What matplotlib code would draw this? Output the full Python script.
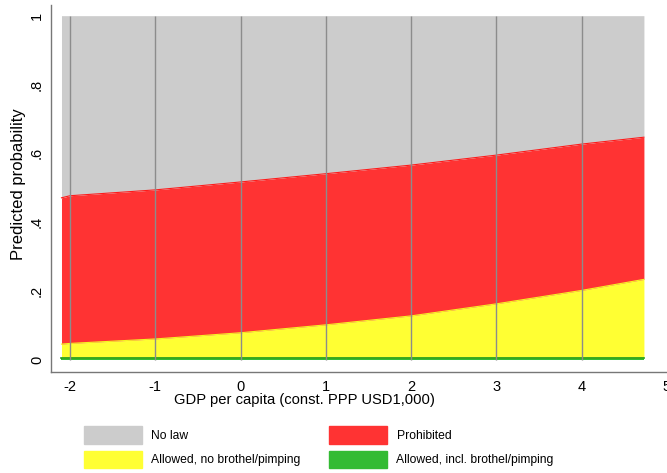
import matplotlib
matplotlib.use("Agg")
import matplotlib.pyplot as plt
import numpy as np
from matplotlib.patches import Patch

plt.rcParams['font.family'] = ['Liberation Sans', 'DejaVu Sans']

# GDP per capita grid (const. PPP USD1,000, centred)
gdp = [-2.1, -2.0, -1.0, 0.0, 1.0, 2.0, 3.0, 4.0, 4.73]

# Predicted probabilities per legal regime
p_allowed_incl = [0.005, 0.005, 0.005, 0.005, 0.005, 0.005, 0.005, 0.005, 0.005]
p_allowed_no = [0.041, 0.043, 0.056, 0.074, 0.097, 0.123, 0.158, 0.197, 0.229]
p_prohibited = [0.425, 0.429, 0.433, 0.438, 0.439, 0.438, 0.432, 0.425, 0.413]
p_no_law = [0.529, 0.523, 0.506, 0.483, 0.459, 0.434, 0.405, 0.373, 0.353]

labels = ["No law", "Prohibited", "Allowed, no brothel/pimping", "Allowed, incl. brothel/pimping"]
colors = {"No law": "#cccccc", "Prohibited": "#ff3333",
          "Allowed, no brothel/pimping": "#ffff33", "Allowed, incl. brothel/pimping": "#33bb33"}

xticks = [-2, -1, 0, 1, 2, 3, 4, 5]
yticks = [0, 0.2, 0.4, 0.6, 0.8, 1.0]
ytick_labels = ["0", ".2", ".4", ".6", ".8", "1"]

W, H = 667, 473
fig = plt.figure(figsize=(W / 100, H / 100), dpi=100)
ax = fig.add_axes([51 / W, 101 / H, (684 - 51) / W, (372 - 5) / H])

x = np.array(gdp)
g = np.array(p_allowed_incl)
y = g + np.array(p_allowed_no)
r = y + np.array(p_prohibited)
n = r + np.array(p_no_law)

ax.fill_between(x, 0, g, color=colors["Allowed, incl. brothel/pimping"], lw=0, zorder=2)
ax.fill_between(x, g, y, color=colors["Allowed, no brothel/pimping"], lw=0, zorder=2)
ax.fill_between(x, y, r, color=colors["Prohibited"], lw=0, zorder=2)
ax.fill_between(x, r, n, color=colors["No law"], lw=0, zorder=2)
ax.plot(x, g, color="#1a9a1a", lw=1.2, zorder=3)
ax.plot(x, y, color="#f5f520", lw=0.8, zorder=3)
ax.plot(x, r, color="#ff1a1a", lw=0.8, zorder=3)

# vertical grid lines at the x ticks inside the plotted range
grid_x = [t for t in xticks if x.min() <= t <= x.max()]
ax.vlines(grid_x, 0, 1, colors="#8c8c8c", lw=1.0, zorder=4)

ax.set_xlim(-2.223, 5.2)
ax.set_ylim(-0.035, 1.031)
ax.set_xticks(xticks)
ax.set_xticklabels([str(t) for t in xticks], fontsize=10.5)
ax.set_yticks(yticks)
ax.set_yticklabels(ytick_labels, fontsize=10.5, rotation=90, va="center")
ax.tick_params(length=0)
ax.tick_params(axis="x", pad=6)
ax.tick_params(axis="y", pad=5)
for s in ["top", "right"]:
    ax.spines[s].set_visible(False)
for s in ["left", "bottom"]:
    ax.spines[s].set_color("#777777")
    ax.spines[s].set_linewidth(1.0)

fig.text(19 / W, 1 - 184 / H, "Predicted probability", rotation=90,
         ha="center", va="center", fontsize=12)
fig.text(304 / W, 1 - 400 / H, "GDP per capita (const. PPP USD1,000)",
         ha="center", va="center", fontsize=10.6)

handles = [Patch(facecolor=colors[l], edgecolor=colors[l]) for l in labels]
order = [0, 2, 1, 3]
fig.legend([handles[i] for i in order], [labels[i] for i in order], ncol=2,
           loc="upper left", bbox_to_anchor=(84 / W, 1 - 426 / H), frameon=False,
           fontsize=8.7, handlelength=4.8, handleheight=1.9, columnspacing=2.4,
           labelspacing=0.55, handletextpad=0.75, borderaxespad=0, borderpad=0)

fig.savefig("out.png", dpi=100)
